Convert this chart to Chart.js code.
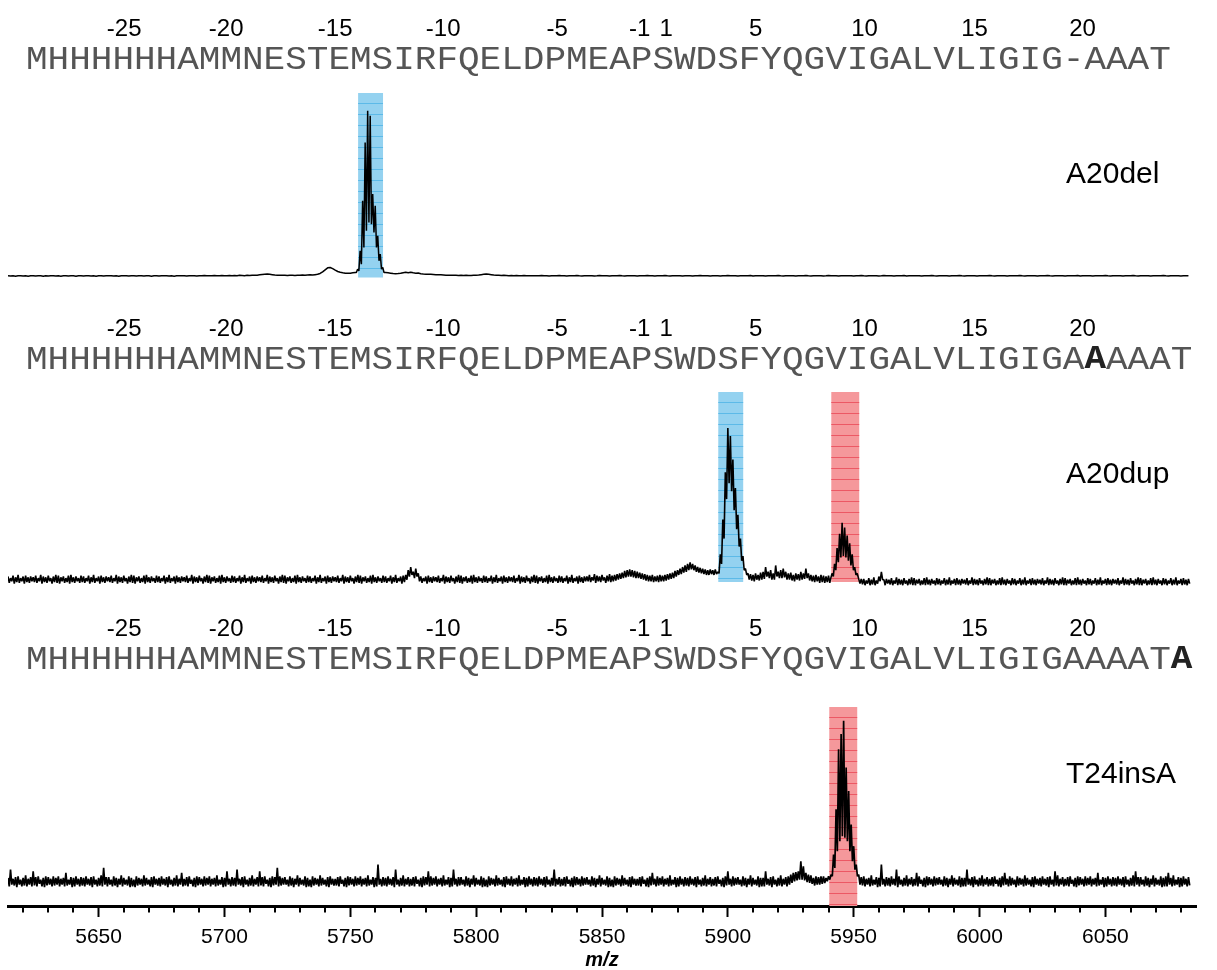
<!DOCTYPE html>
<html>
<head>
<meta charset="utf-8">
<script src="https://cdn.jsdelivr.net/npm/chart.js@4.4.0/dist/chart.umd.min.js"></script>
<style>
  html, body { margin: 0; padding: 0; background: #fff; overflow: hidden; }
  canvas { display: block; }
</style>
</head>
<body>
<canvas id="spectra" width="1217" height="970"></canvas>
<script>
// ---------------------------------------------------------------------------
// Data: MALDI spectra of three signal-peptide variants (relative intensity, %)
// Traces start at MZ_START with a fixed m/z step; isotope clusters are
// sampled every 0.5 m/z in their own arrays.
// ---------------------------------------------------------------------------
const MZ_START = 5614;
const MZ_AXIS_MIN = 5614;
const MZ_AXIS_MAX = 6086;
const mzTickLabels = [5650, 5700, 5750, 5800, 5850, 5900, 5950, 6000, 6050];
const MINOR_TICK_STEP = 10;

const variantNames = ['A20del', 'A20dup', 'T24insA'];

const sequences = [
  'MHHHHHHAMMNESTEMSIRFQELDPMEAPSWDSFYQGVIGALVLIGIG-AAAT',
  'MHHHHHHAMMNESTEMSIRFQELDPMEAPSWDSFYQGVIGALVLIGIGAAAAAT',
  'MHHHHHHAMMNESTEMSIRFQELDPMEAPSWDSFYQGVIGALVLIGIGAAAATA'
];
// index (0-based) of the inserted residue printed in bold, -1 = none
const insertedResidue = [-1, 49, 53];

const positionLabels  = ['-25', '-20', '-15', '-10', '-5', '-1', '1', '5', '10', '15', '20'];
const positionResidue = [5, 10, 15, 20, 25, 29, 30, 34, 39, 44, 49];

// A20del, 1 m/z per value
const A20DEL_STEP = 1;
const a20delIntensity = [
  1.0,0.9,1.1,0.8,1.0,1.1,0.9,1.0,0.8,1.0,
  1.1,0.9,1.0,1.0,0.8,1.1,0.9,1.0,1.1,0.9,
  1.0,0.8,1.0,1.1,0.9,1.0,1.0,0.8,1.1,1.0,
  0.9,1.0,1.1,0.9,1.0,0.8,1.0,1.1,0.9,1.0,
  1.0,1.1,0.9,1.0,0.8,1.0,1.1,1.0,0.9,1.0,
  1.1,0.9,1.0,1.0,0.9,1.1,1.0,0.8,1.0,1.1,
  0.9,1.0,1.0,1.1,0.9,1.0,0.8,1.0,1.1,1.0,
  1.0,0.9,1.1,1.0,1.0,0.9,1.1,1.0,1.2,1.0,
  1.1,1.0,1.2,1.1,1.0,1.2,1.1,1.0,1.2,1.1,
  1.2,1.1,1.3,1.2,1.1,1.3,1.2,1.4,1.3,1.4,
  1.6,1.8,2.0,2.1,1.9,1.7,1.5,1.4,1.3,1.4,
  1.3,1.2,1.4,1.3,1.2,1.4,1.3,1.5,1.4,1.5,
  1.6,1.5,1.7,1.9,2.4,3.4,4.6,5.8,6.0,5.3,
  4.4,3.6,3.1,2.8,2.6,2.5,2.6,2.8,3.0,3.4,
  8,30,60,95,90,45,40,20,12,5,
  3.0,2.8,2.6,2.4,2.3,2.4,2.6,2.9,3.1,2.9,
  3.2,2.8,2.6,2.7,2.3,2.1,2.0,1.9,1.9,1.8,
  1.7,1.6,1.6,1.5,1.4,1.4,1.3,1.4,1.3,1.2,
  1.3,1.2,1.3,1.2,1.2,1.3,1.4,1.5,1.7,1.9,
  2.1,1.9,1.7,1.5,1.4,1.3,1.2,1.3,1.2,1.1,
  1.2,1.1,1.2,1.0,1.1,1.2,1.0,1.1,1.0,1.1,
  1.1,1.0,1.2,1.0,1.1,0.9,1.0,1.1,1.0,1.2,
  1.0,1.1,0.9,1.0,1.1,1.0,1.2,1.0,0.9,1.1,
  1.0,1.0,1.1,0.9,1.0,1.2,1.0,1.1,1.0,0.9,
  1.1,1.0,1.0,1.2,1.0,0.9,1.1,1.0,1.1,1.0,
  0.9,1.1,1.0,1.0,1.2,1.0,1.1,0.9,1.0,1.1,
  1.0,1.2,1.0,0.9,1.1,1.0,1.0,1.1,0.9,1.0,
  1.1,1.0,0.9,1.1,1.0,1.2,1.0,1.0,1.1,0.9,
  1.0,1.1,1.0,0.9,1.1,1.0,1.2,1.0,1.0,1.1,
  0.9,1.0,1.1,1.0,1.0,1.2,0.9,1.1,1.0,1.0,
  1.1,0.9,1.0,1.1,1.0,1.0,1.2,1.0,0.9,1.1,
  1.0,1.0,1.1,0.9,1.0,1.1,1.0,1.2,1.0,0.9,
  1.1,1.0,1.0,1.1,0.9,1.0,1.2,1.0,1.1,1.0,
  0.9,1.1,1.0,1.0,1.1,1.0,0.9,1.1,1.0,1.2,
  1.0,0.9,1.1,1.0,1.0,1.1,0.9,1.0,1.2,1.0,
  1.1,1.0,0.9,1.1,1.0,1.0,1.2,0.9,1.0,1.1,
  1.0,1.1,1.0,0.9,1.1,1.0,1.0,1.2,1.0,0.9,
  1.1,1.0,1.0,1.1,0.9,1.0,1.1,1.0,1.2,1.0,
  0.9,1.1,1.0,1.0,1.1,0.9,1.0,1.1,1.0,1.0,
  1.2,1.0,0.9,1.1,1.0,1.0,1.1,0.9,1.0,1.1,
  1.0,1.0,1.2,1.0,0.9,1.1,1.0,1.0,1.1,0.9,
  1.0,1.1,1.0,1.2,1.0,0.9,1.1,1.0,1.0,1.1,
  0.9,1.0,1.1,1.0,1.0,1.2,0.9,1.1,1.0,1.0,
  1.1,0.9,1.0,1.1,1.0,1.0,1.2,1.0,0.9,1.1,
  1.0,1.0,1.1,0.9,1.0,1.1,1.0,1.2,1.0,0.9,
  1.1,1.0,1.0,1.1,0.9,1.0,1.1,1.0,1.0,1.2,
  1.0,0.9,1.1,1.0,1.0,1.1,0.9,1.0,1.1,1.0
];
const a20delClusterStart = 5752.4;
const a20delCluster = [3,5,4,16,8,46,18,81,28,100,33,97,32,50,27,43,18,25,10,14,5,6,3];

// A20dup, 0.5 m/z per value (one row = 10 m/z)
const A20DUP_STEP = 0.5;
const a20dupIntensity = [
  6,2,5,3,6.5,1.5,5.5,2.5,7,2,5,3,6,1.5,6.5,2.5,5.5,2,6,3,            // 5614
  5.5,2.5,6.5,2,5,3,7,1.5,6,2.5,5.5,2,6.5,3,5,1.5,6,2.5,7,2,
  6.5,1.5,5.5,3,6,2,5,2.5,6.5,1.5,7,2.5,5.5,2,6,3,5,2,6.5,2.5,
  6,2,5,3,6.5,1.5,5.5,2.5,7,2,5,3,6,1.5,6.5,2.5,5.5,2,6,3,
  5.5,2.5,6.5,2,5,3,7,1.5,6,2.5,5.5,2,6.5,3,5,1.5,6,2.5,7,2,
  6.5,1.5,5.5,3,6,2,5,2.5,6.5,1.5,7,2.5,5.5,2,6,3,5,2,6.5,2.5,     // 5664
  6,2,5,3,6.5,1.5,5.5,2.5,7,2,5,3,6,1.5,6.5,2.5,5.5,2,6,3,
  5.5,2.5,6.5,2,5,3,7,1.5,6,2.5,5.5,2,6.5,3,5,1.5,6,2.5,7,2,
  6.5,1.5,5.5,3,6,2,5,2.5,6.5,1.5,7,2.5,5.5,2,6,3,5,2,6.5,2.5,
  6,2,5,3,6.5,1.5,5.5,2.5,7,2,5,3,6,1.5,6.5,2.5,5.5,2,6,3,
  5.5,2.5,6.5,2,5,3,7,1.5,6,2.5,5.5,2,6.5,3,5,1.5,6,2.5,7,2,        // 5714
  6.5,1.5,5.5,3,6,2,5,2.5,6.5,1.5,7,2.5,5.5,2,6,3,5,2,6.5,2.5,
  6,2,5,3,6.5,1.5,5.5,2.5,7,2,5,3,6,1.5,6.5,2.5,5.5,2,6,3,
  5.5,2.5,6.5,2,5,3,7,1.5,6,2.5,5.5,2,6.5,3,5,1.5,6,2.5,7,2,
  6.5,1.5,5.5,3,6,2,5,2.5,6.5,1.5,7,2.5,5.5,2,6,3,5,2,6.5,2.5,
  6,2,5,3,6.5,1.5,5.5,2.5,7,2,5,3,6,1.5,6.5,2.5,7,4,10,6,           // 5764
  12,7,9,5,11,6,8,3,6,2,5,3,6,1.5,6.5,2.5,5.5,2,6,3,
  5.5,2.5,6.5,2,5,3,7,1.5,6,2.5,5.5,2,6.5,3,5,1.5,6,2.5,7,2,
  6.5,1.5,5.5,3,6,2,5,2.5,6.5,1.5,7,2.5,5.5,2,6,3,5,2,6.5,2.5,
  6,2,5,3,6.5,1.5,5.5,2.5,7,2,5,3,6,1.5,6.5,2.5,5.5,2,6,3,
  5.5,2.5,6.5,2,5,3,7,1.5,6,2.5,5.5,2,6.5,3,5,1.5,6,2.5,7,2,        // 5814
  6.5,1.5,5.5,3,6,2,5,2.5,6.5,1.5,7,2.5,5.5,2,6,3,5,2,6.5,2.5,
  6,2,5,3,6.5,1.5,5.5,2.5,7,2,5,3,6,1.5,6.5,2.5,5.5,2,6,3,
  6,3,7,2.5,5.5,3.5,7.5,2,6.5,3,6,2.5,7,3.5,5.5,2,6.5,3,7.5,2.5,
  6.5,3,7,3.5,7.5,4,8,4.5,8.5,5,9.5,5.5,10,6,10.5,6,10,5.5,9.5,5,
  9,5,8.5,4.5,8,4,7.5,3.5,7,3,6.5,3,7,2.5,6,3,6.5,2.5,7,3,            // 5864
  6.5,3,7,3.5,7.5,4,8,4.5,8.5,5,9.5,6,10,7,11,7.5,12,8.5,13,9,
  14,10,15,10.5,14,10,13,9,12,8.5,11.5,8,11,7.5,10.5,7,10,7,10.5,7.5,
  10,7,10.5,7.5,9,8,20,14,42,30,72,55,100,65,95,60,80,48,62,36,
  45,25,30,16,19,10,11,7,8,4,7.5,3.5,7,3,8,4,7,3.5,8.5,4,
  9,4.5,12,6,9,5,10,4,8,4,13,6,9,5,10,5,11,5.5,9,4,                   // 5914
  8,4,8.5,3.5,7,3,8,4,7.5,3.5,9,4,8,4.5,11,5,8,3.5,7,3,
  6.5,2.5,7,3,6,2,7,2.5,6.5,2,6,2.5,6.5,2,8,6,14,10,24,15,
  33,18,40,19,37,18,32,16,27,13,20,10,12,7,8,5,5,1.5,4.5,1,
  4.5,0.5,3.5,1.5,5,0.5,4,1,5.5,0.5,3.5,1.5,6,3,9,4,4,0.5,4.5,1.5,
  4,1,5,0.5,3.5,1.5,5.5,0.5,4.5,1,4,0.5,5,1.5,3.5,0.5,4.5,1,5.5,0.5,  // 5964
  5,0.5,4,1.5,4.5,0.5,3.5,1,5,0.5,5.5,1,4,0.5,4.5,1.5,3.5,0.5,5,1,
  4.5,0.5,3.5,1.5,5,0.5,4,1,5.5,0.5,3.5,1.5,4.5,0.5,5,1,4,0.5,4.5,1.5,
  4,1,5,0.5,3.5,1.5,5.5,0.5,4.5,1,4,0.5,5,1.5,3.5,0.5,4.5,1,5.5,0.5,
  5,0.5,4,1.5,4.5,0.5,3.5,1,5,0.5,5.5,1,4,0.5,4.5,1.5,3.5,0.5,5,1,
  4.5,0.5,3.5,1.5,5,0.5,4,1,5.5,0.5,3.5,1.5,4.5,0.5,5,1,4,0.5,4.5,1.5,  // 6014
  4,1,5,0.5,3.5,1.5,5.5,0.5,4.5,1,4,0.5,5,1.5,3.5,0.5,4.5,1,5.5,0.5,
  5,0.5,4,1.5,4.5,0.5,3.5,1,5,0.5,5.5,1,4,0.5,4.5,1.5,3.5,0.5,5,1,
  4.5,0.5,3.5,1.5,5,0.5,4,1,5.5,0.5,3.5,1.5,4.5,0.5,5,1,4,0.5,4.5,1.5,
  4,1,5,0.5,3.5,1.5,5.5,0.5,4.5,1,4,0.5,5,1.5,3.5,0.5,4.5,1,5.5,0.5,
  5,0.5,4,1.5,4.5,0.5,3.5,1,5,0.5,5.5,1,4,0.5,4.5,1.5,3.5,0.5,5,1,      // 6064
  4.5,0.5,3.5,1.5,5,0.5,4,1,5.5,0.5,3.5,1.5,4.5,0.5,5,1,4,0.5,4.5,1.5
];
const a20dupClusterAStart = 5896.0;
const a20dupClusterA = [9,8,20,14,42,30,72,55,100,65,95,60,80,48,62,36,45,25,30,16,19,10,11,7];
const a20dupClusterBStart = 5940.9;
const a20dupClusterB = [5,8,6,14,10,24,15,33,18,40,19,37,18,32,16,27,13,20,10,12,7,8,5];

// T24insA, 0.5 m/z per value (one row = 10 m/z)
const T24INSA_STEP = 0.5;
const t24insAIntensity = [
  6,1,11,2,5.5,1.5,6.5,0.5,7,2,5,1,6,1.5,7.5,1,5.5,2,6.5,1,             // 5614
  10,1.5,6.5,1,7,2.5,5,1,6,0.5,7,1.5,6.5,2,5.5,1,7,1.5,6,2,
  7,1,5.5,2,6,1,9,1.5,5,2,6.5,0.5,6,1,7,2,5.5,1,6.5,1.5,
  6,1,7,2,5.5,1.5,6.5,0.5,7,2,5,1,6,1.5,7.5,1,12,2,6.5,1,
  6.5,2,5,1,7,1.5,6,0.5,5.5,2,7.5,1,6,2,5,1.5,7,0.5,6,1,
  5,0.5,7,1.5,6,2,5.5,1,7.5,1.5,6,2,5,1,6.5,0.5,7,2,5.5,1.5,          // 5664
  6,1,7,2,5.5,1.5,6.5,0.5,7,2,5,1,6,1.5,7.5,1,5.5,2,9,1,
  5.5,1.5,6.5,1,7,2.5,5,1,6,0.5,7,1.5,6.5,2,5.5,1,7,1.5,6,2,
  7,1,5.5,2,6,1,7.5,1.5,5,2,6.5,0.5,6,1,10,2,5.5,1,6.5,1.5,
  6,1,11,2,5.5,1.5,6.5,0.5,7,2,5,1,6,1.5,7.5,1,5.5,2,6.5,1,
  10,1.5,6.5,1,7,2.5,5,1,6,0.5,7,1.5,6.5,2,12,1,7,1.5,6,2,             // 5714
  6.5,2,5,1,7,1.5,6,0.5,5.5,2,7.5,1,6,2,5,1.5,7,0.5,6,1,
  5,0.5,7,1.5,6,2,5.5,1,7.5,1.5,6,2,5,1,6.5,0.5,7,2,5.5,1.5,
  5.5,1.5,6.5,1,7,2.5,5,1,6,0.5,7,1.5,6.5,2,5.5,1,7,1.5,6,2,
  7,1,5.5,2,6,1,7.5,1.5,5,2,6.5,0.5,6,1,14,2,5.5,1,6.5,1.5,
  6,1,7,2,5.5,1.5,6.5,0.5,11,2,5,1,6,1.5,7.5,1,5.5,2,6.5,1,            // 5764
  5.5,1.5,6.5,1,7,2.5,5,1,6,0.5,7,1.5,6.5,2,10,1,7,1.5,6,2,
  7,1,5.5,2,6,1,7.5,1.5,5,2,6.5,0.5,6,1,11,2,5.5,1,6.5,1.5,
  6.5,2,5,1,7,1.5,6,0.5,5.5,2,7.5,1,6,2,5,1.5,7,0.5,6,1,
  5,0.5,7,1.5,6,2,5.5,1,7.5,1.5,6,2,5,1,6.5,0.5,7,2,5.5,1.5,
  7,1,5.5,2,6,1,7.5,1.5,5,2,6.5,0.5,6,1,7,2,5.5,1,6.5,1.5,              // 5814
  6,1,7,2,5.5,1.5,6.5,0.5,7,2,5,1,6,1.5,11,1,5.5,2,6.5,1,
  5.5,1.5,6.5,1,7,2.5,5,1,6,0.5,7,1.5,6.5,2,5.5,1,7,1.5,6,2,
  6.5,2,5,1,7,1.5,6,0.5,5.5,2,7.5,1,6,2,5,1.5,7,0.5,6,1,
  5,0.5,7,1.5,6,2,5.5,1,7.5,1.5,6,2,5,1,6.5,0.5,7,2,5.5,1.5,
  5.5,1.5,6.5,1,7,2.5,5,1,6,0.5,7,1.5,9,2,5.5,1,7,1.5,6,2,              // 5864
  7,1,5.5,2,6,1,7.5,1.5,5,2,6.5,0.5,6,1,7,2,5.5,1,6.5,1.5,
  6,1,7,2,5.5,1.5,6.5,0.5,7,2,5,1,6,1.5,7.5,1,5.5,2,6.5,1,
  5.5,1.5,6.5,1,7,2.5,5,1,6,0.5,7,1.5,10,2,5.5,1,7,1.5,6,2,
  6.5,2,5,1,7,1.5,6,0.5,5.5,2,7.5,1,6,2,5,1.5,7,0.5,6,1,
  6,1,10,2,5.5,1.5,6.5,0.5,7,2,5,1,6,1.5,7.5,1,5.5,2,6.5,1,              // 5914
  7,2,8,3,9,4,9.5,4.5,10,5,16,5,13,4.5,9,3.5,8,3,7.5,2.5,
  6,1.5,7,2,6.5,2,7,2.5,7,3,6,4,7,5,8,7,20,12,47,22,
  83,28,92,31,100,30,72,28,58,22,38,16,25,11,14,7,8,2,6.5,1.5,
  7,1,5.5,2,6,1,7.5,1.5,5,2,6.5,0.5,6,1,14,2,5.5,1,6.5,1.5,
  6,1,7,2,5.5,1.5,11,0.5,7,2,5,1,6,1.5,7.5,1,5.5,2,6.5,1,                // 5964
  5.5,1.5,9,1,7,2.5,5,1,6,0.5,7,1.5,6.5,2,5.5,1,7,1.5,6,2,
  6.5,2,5,1,7,1.5,6,0.5,5.5,2,7.5,1,6,2,5,1.5,7,0.5,6,1,
  6,1,11,2,5.5,1.5,6.5,0.5,7,2,5,1,6,1.5,7.5,1,5.5,2,6.5,1,
  5.5,1.5,6.5,1,7,2.5,5,1,6,0.5,7,1.5,9,2,5.5,1,7,1.5,6,2,
  5,0.5,7,1.5,6,2,5.5,1,7.5,1.5,6,2,5,1,6.5,0.5,7,2,5.5,1.5,            // 6014
  6,1,7,2,5.5,1.5,6.5,0.5,7,2,5,1,10,1.5,7.5,1,5.5,2,6.5,1,
  5.5,1.5,6.5,1,7,2.5,5,1,6,0.5,7,1.5,6.5,2,5.5,1,7,1.5,6,2,
  7,1,5.5,2,6,1,9,1.5,5,2,6.5,0.5,6,1,7,2,5.5,1,6.5,1.5,
  6,1,7,2,5.5,1.5,6.5,0.5,7,2,5,1,6,1.5,7.5,1,10,2,6.5,1,
  6.5,2,5,1,7,1.5,6,0.5,5.5,2,7.5,1,6,2,5,1.5,7,0.5,6,1,                // 6064
  7,1,9,2,6,1,7.5,1.5,5,2,6.5,0.5,6,1,7,2,5.5,1,6.5,1.5
];
const t24insAClusterStart = 5940.5;
const t24insACluster = [5,8,7,20,12,47,22,83,28,92,31,100,30,72,28,58,22,38,16,25,11,14,7,8];

const CLUSTER_STEP = 0.5;

// Highlighted m/z windows: panel index, start, end, kind
const windowPanel   = [0, 1, 1, 2];
const windowStartMz = [5753.1, 5896.2, 5941.1, 5940.3];
const windowEndMz   = [5763.0, 5906.1, 5952.2, 5951.4];
const windowKind    = ['expected', 'expected', 'observed', 'observed'];

// ---------------------------------------------------------------------------
// Layout and styles
// ---------------------------------------------------------------------------
const PLOT_TOP = 0;
const PLOT_BOTTOM = 906;          // pixel row of the m/z axis
const panelLayout = [
  { zeroPx: 277.5, pxPerUnit: 1.668, bandTop: 93,  bandBottom: 277.5, rowOffset: 0,   lineWidth: 1.5 },
  { zeroPx: 586,   pxPerUnit: 1.58,  bandTop: 392, bandBottom: 582,   rowOffset: 300, lineWidth: 1.6 },
  { zeroPx: 888,   pxPerUnit: 1.673, bandTop: 707, bandBottom: 906,   rowOffset: 600, lineWidth: 1.7 }
];
const windowStyle = {
  expected: { fill: 'rgb(148,210,240)', stripe: 'rgb(92,186,232)' },
  observed: { fill: 'rgb(245,152,155)', stripe: 'rgb(236,88,100)' }
};
const SEQ_LEFT = 26;
const SEQ_PITCH = 21.6;
const SEQ_SQUASH = 0.9;
const NUMBER_ROW_Y = 29.5;
const SEQ_ROW_Y = 60;
const NAME_X = 1066;
const NAME_Y = 175;
// small horizontal shifts of the residue numbers relative to their residue
const numberNudge = [1, -5, -4, -4, 2, -2, 3, 6, 7, 9, 9];

// ---------------------------------------------------------------------------
// Build point lists: trace outside the cluster windows + fine clusters
// ---------------------------------------------------------------------------
function buildTrace(values, step, clusters) {
  const spans = clusters.map(c => ({ start: c.start, end: c.start + (c.values.length - 1) * CLUSTER_STEP }));
  const pts = [];
  values.forEach((v, i) => {
    const mz = MZ_START + i * step;
    if (!spans.some(s => mz >= s.start && mz <= s.end)) pts.push({ x: mz, y: v });
  });
  clusters.forEach(c => c.values.forEach((v, i) => pts.push({ x: c.start + i * CLUSTER_STEP, y: v })));
  pts.sort((a, b) => a.x - b.x);
  return pts;
}

const traces = [
  buildTrace(a20delIntensity, A20DEL_STEP, [{ start: a20delClusterStart, values: a20delCluster }]),
  buildTrace(a20dupIntensity, A20DUP_STEP, [
    { start: a20dupClusterAStart, values: a20dupClusterA },
    { start: a20dupClusterBStart, values: a20dupClusterB }
  ]),
  buildTrace(t24insAIntensity, T24INSA_STEP, [{ start: t24insAClusterStart, values: t24insACluster }])
];

// each trace gets its own hidden intensity axis, placed by its zero row
function panelAxis(p) {
  return {
    type: 'linear', display: false,
    min: -(PLOT_BOTTOM - p.zeroPx) / p.pxPerUnit,
    max: (p.zeroPx - PLOT_TOP) / p.pxPerUnit
  };
}

const spectrumDecorations = {
  id: 'spectrumDecorations',
  beforeDatasetsDraw(chart) {
    const ctx = chart.ctx;
    const xs = chart.scales.x;
    ctx.save();
    windowPanel.forEach((panel, i) => {
      const lay = panelLayout[panel];
      const st = windowStyle[windowKind[i]];
      const x0 = xs.getPixelForValue(windowStartMz[i]);
      const x1 = xs.getPixelForValue(windowEndMz[i]);
      ctx.fillStyle = st.fill;
      ctx.fillRect(x0, lay.bandTop, x1 - x0, lay.bandBottom - lay.bandTop);
      ctx.strokeStyle = st.stripe;
      ctx.lineWidth = 1;
      ctx.beginPath();
      for (let y = lay.bandTop + 10.5; y < lay.bandBottom; y += 11) {
        ctx.moveTo(x0, y); ctx.lineTo(x1, y);
      }
      ctx.stroke();
    });
    ctx.restore();
  },
  afterDraw(chart) {
    const ctx = chart.ctx;
    const xs = chart.scales.x;
    const bottom = chart.chartArea.bottom;
    ctx.save();

    // minor ticks on the m/z axis
    ctx.strokeStyle = '#000';
    ctx.lineWidth = 2;
    ctx.beginPath();
    const firstMinor = Math.ceil(MZ_AXIS_MIN / MINOR_TICK_STEP) * MINOR_TICK_STEP;
    for (let v = firstMinor; v <= MZ_AXIS_MAX; v += MINOR_TICK_STEP) {
      if (mzTickLabels.includes(v)) continue;
      const px = Math.round(xs.getPixelForValue(v));
      ctx.moveTo(px, bottom);
      ctx.lineTo(px, bottom + 6.5);
    }
    ctx.stroke();

    panelLayout.forEach((lay, k) => {
      // residue numbering
      ctx.fillStyle = '#000';
      ctx.font = '24px "Liberation Sans", Arial, sans-serif';
      ctx.textAlign = 'center';
      ctx.textBaseline = 'middle';
      positionLabels.forEach((lab, j) => {
        const cx = SEQ_LEFT + (positionResidue[j] - 0.5) * SEQ_PITCH + numberNudge[j];
        ctx.fillText(lab, cx, NUMBER_ROW_Y + lay.rowOffset);
      });

      // sequence, one residue per cell
      const seq = sequences[k];
      for (let i = 0; i < seq.length; i++) {
        const bold = i === insertedResidue[k];
        const cx = SEQ_LEFT + (i + 0.5) * SEQ_PITCH;
        ctx.font = (bold ? 'bold ' : '') + '36px "Liberation Mono", "DejaVu Sans Mono", monospace';
        ctx.fillStyle = bold ? '#222' : '#555';
        ctx.save();
        ctx.translate(cx, SEQ_ROW_Y + lay.rowOffset);
        ctx.scale(1, SEQ_SQUASH);
        ctx.fillText(seq[i], 0, 0);
        ctx.restore();
      }

      // variant name
      ctx.fillStyle = '#000';
      ctx.font = '30px "Liberation Sans", Arial, sans-serif';
      ctx.textAlign = 'left';
      ctx.fillText(variantNames[k], NAME_X, NAME_Y + lay.rowOffset);
    });
    ctx.restore();
  }
};

Chart.defaults.font.family = '"Liberation Sans", Arial, sans-serif';

new Chart(document.getElementById('spectra'), {
  type: 'line',
  data: {
    datasets: traces.map((pts, k) => ({
      label: variantNames[k],
      data: pts,
      yAxisID: 'y' + k,
      borderColor: '#000',
      borderWidth: panelLayout[k].lineWidth,
      borderJoinStyle: 'bevel',
      pointRadius: 0,
      tension: 0,
      fill: false
    }))
  },
  options: {
    responsive: false,
    animation: false,
    devicePixelRatio: 1,
    parsing: false,
    normalized: true,
    layout: { padding: { left: 8, right: 21, top: 0, bottom: 0 } },
    plugins: { legend: { display: false }, tooltip: { enabled: false } },
    scales: {
      x: {
        type: 'linear',
        position: 'bottom',
        min: MZ_AXIS_MIN,
        max: MZ_AXIS_MAX,
        afterBuildTicks: scale => { scale.ticks = mzTickLabels.map(v => ({ value: v })); },
        afterFit: scale => { scale.height = 970 - PLOT_BOTTOM; },
        border: { display: true, color: '#000', width: 3 },
        grid: { drawOnChartArea: false, drawTicks: true, tickLength: 11, tickWidth: 2, tickColor: '#000' },
        ticks: {
          autoSkip: false, maxRotation: 0, padding: 8, color: '#000',
          font: { size: 21 },
          callback: v => String(v)
        },
        title: {
          display: true, text: 'm/z', color: '#000',
          font: { size: 20, weight: 'bold', style: 'italic', lineHeight: 1 },
          padding: { top: 0, bottom: 0 }
        }
      },
      y0: panelAxis(panelLayout[0]),
      y1: panelAxis(panelLayout[1]),
      y2: panelAxis(panelLayout[2])
    }
  },
  plugins: [spectrumDecorations]
});
</script>
</body>
</html>
